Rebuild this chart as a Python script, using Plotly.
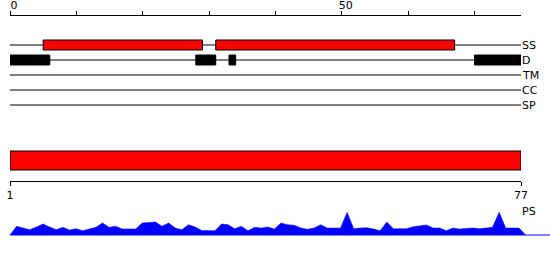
import plotly.graph_objects as go

# ---------------- data ----------------
seq_len = 77
top_ticks = [0, 10, 20, 30, 40, 50, 60, 70]
top_tick_text = ["0", "", "", "", "", "50", "", ""]
bottom_ticks = [1, 77]
bottom_tick_text = ["1", "77"]

track_names = ["SS", "D", "TM", "CC", "SP"]
ss_start = [5, 31]
ss_end = [29, 67]
d_start = [0, 28, 33, 70]
d_end = [6, 31, 34, 77]
domain_start = [1]
domain_end = [77]

ps_values = [8.7, 7, 5.3, 8, 11, 8, 5.3, 7.7, 5, 6.3,
             4.3, 6, 7.7, 12, 7.7, 8.7, 6, 6, 6, 12,
             12.5, 13, 8.7, 12, 7, 5.3, 10.3, 8, 4.5, 4.3,
             4.3, 11, 10.3, 6.3, 8.7, 4.3, 7.7, 7, 8, 6,
             12, 10.3, 9.7, 7, 5.7, 7, 10.3, 7, 7, 7,
             22.7, 6.3, 7, 7.3, 6, 4.3, 13, 6.3, 6.3, 6.3,
             8.3, 9.5, 10, 7, 7, 4.3, 7, 6, 6.5, 7,
             6.3, 7, 7.7, 22.7, 7, 7, 7]

# ---------------- layout constants (pixels) ----------------
W, H = 550, 260
X0, X1 = 10, 521
track_y = {"SS": 45, "D": 60, "TM": 75, "CC": 90, "SP": 105}
domain_y = 160.5
top_axis_y = 14.5
bottom_axis_y = 180.5
ps_base = 235
ps_step = 6.61
font = dict(family="DejaVu Sans", size=11, color="black")

fig = go.Figure()

# SS boxes
fig.add_trace(go.Bar(
    orientation="h", y=[track_y["SS"]] * len(ss_start),
    x=[e - s for s, e in zip(ss_start, ss_end)], base=ss_start, width=10,
    marker=dict(color="#ff0000", line=dict(color="black", width=1)),
    xaxis="x", yaxis="y", hoverinfo="skip", showlegend=False))
# Disorder boxes
fig.add_trace(go.Bar(
    orientation="h", y=[track_y["D"]] * len(d_start),
    x=[e - s for s, e in zip(d_start, d_end)], base=d_start, width=10,
    marker=dict(color="black", line=dict(color="black", width=1)),
    xaxis="x", yaxis="y", hoverinfo="skip", showlegend=False))
# Domain bar
fig.add_trace(go.Bar(
    orientation="h", y=[domain_y] * len(domain_start),
    x=[e - s for s, e in zip(domain_start, domain_end)], base=domain_start, width=19,
    marker=dict(color="#ff0000", line=dict(color="black", width=1)),
    xaxis="x3", yaxis="y", hoverinfo="skip", showlegend=False))

# PS profile
ps_x = [0] + list(range(1, seq_len + 1)) + [seq_len + 1]
ps_y = [0] + ps_values + [0]
fig.add_trace(go.Scatter(
    x=[0, 100], y=[0, 0], mode="lines", line=dict(color="#0000ff", width=1),
    xaxis="x2", yaxis="y2", hoverinfo="skip", showlegend=False))
fig.add_trace(go.Scatter(
    x=ps_x, y=ps_y, mode="lines", fill="tozeroy", fillcolor="#0000ff",
    line=dict(color="#0000ff", width=0.5),
    xaxis="x2", yaxis="y2", hoverinfo="skip", showlegend=False))

# track lines (below the boxes) and labels
shapes = []
annotations = []
for name in track_names:
    shapes.append(dict(type="line", xref="x", yref="y", layer="below",
                       x0=0, x1=seq_len, y0=track_y[name], y1=track_y[name],
                       line=dict(color="black", width=1)))
    annotations.append(dict(x=seq_len, y=track_y[name], xref="x", yref="y",
                            text=name, showarrow=False, xanchor="left",
                            yanchor="middle", font=font, xshift=-1))
annotations.append(dict(x=seq_len, y=211, xref="x", yref="y", text="PS",
                        showarrow=False, xanchor="left", yanchor="middle",
                        font=font, xshift=-1))

dom = [X0 / W, X1 / W]
fig.update_layout(
    width=W, height=H, margin=dict(l=0, r=0, t=0, b=0, autoexpand=False),
    paper_bgcolor="white", plot_bgcolor="rgba(0,0,0,0)",
    barmode="overlay", shapes=shapes, annotations=annotations,
    xaxis=dict(domain=dom, range=[0, seq_len], anchor="free",
               position=1 - top_axis_y / H, side="top", automargin=False,
               showline=True, linecolor="black", linewidth=1,
               ticks="outside", ticklen=4, tickwidth=1, tickcolor="black",
               tickvals=top_ticks, ticktext=top_tick_text, tickfont=font,
               ticklabelshift=4, ticklabelstandoff=-3,
               showgrid=False, zeroline=False, fixedrange=True),
    xaxis3=dict(domain=dom, range=[1, seq_len], anchor="free",
                position=1 - bottom_axis_y / H, side="bottom", automargin=False,
                showline=True, linecolor="black", linewidth=1,
                ticks="outside", ticklen=4, tickwidth=1, tickcolor="black",
                tickvals=bottom_ticks, ticktext=bottom_tick_text, tickfont=font,
                showgrid=False, zeroline=False, fixedrange=True),
    xaxis2=dict(domain=[0, 1], range=[-X0 / ps_step, (W - X0) / ps_step],
                anchor="y2", visible=False, fixedrange=True, automargin=False),
    yaxis=dict(domain=[0, 1], range=[H, 0], visible=False, fixedrange=True,
               automargin=False),
    yaxis2=dict(domain=[0, 1], range=[-(H - ps_base), ps_base], anchor="x2",
                visible=False, fixedrange=True, automargin=False),
)

fig.write_html("out.html")
